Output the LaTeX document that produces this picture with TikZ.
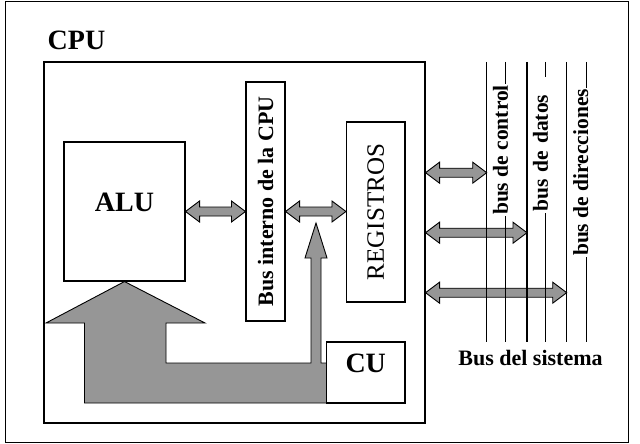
\documentclass[tikz,border=0pt]{standalone}
\usepackage{fontspec}
\setmainfont{Liberation Serif}
\usetikzlibrary{calc}
\definecolor{arrowgray}{RGB}{150,150,150}
\newcommand\fatarrow[2]{\draw[fat] let \p1=(#1), \p2=(#2) in
  (\x1,\y1) -- (\x1+14pt,\y1+10.5pt) -- (\x1+14pt,\y1+4.5pt) -- (\x2-14pt,\y1+4.5pt)
  -- (\x2-14pt,\y1+10.5pt) -- (\x2,\y1) -- (\x2-14pt,\y1-10.5pt) -- (\x2-14pt,\y1-4.5pt)
  -- (\x1+14pt,\y1-4.5pt) -- (\x1+14pt,\y1-10.5pt) -- cycle;}
\begin{document}
\begin{tikzpicture}[x=1pt,y=-1pt,
  box/.style={draw, line width=1.1pt, fill=white, inner sep=0pt},
  fat/.style={draw, line width=0.9pt, fill=arrowgray, line join=miter},
  bigfont/.style={font=\bfseries\fontsize{28}{30}\selectfont},
  buslabel/.style={fill=white, inner sep=1pt, rotate=90, font=\bfseries\fontsize{21.5}{22}\selectfont},
  busline/.style={line width=1.1pt}]
\useasboundingbox (0,0) rectangle (640,444);
\draw[line width=1.3pt] (5.5,1.5) rectangle (628.5,442.5);
\node[bigfont] (cputitle) at (76.5,40) {CPU};
\node[box, minimum width=381pt, minimum height=361pt] (cpu) at (234.5,242.5) {};
\node[box, minimum width=121pt, minimum height=139pt,
      label={[bigfont, yshift=9.5pt]center:ALU}] (alu) at (124.5,211.5) {};
\node[box, minimum width=39pt, minimum height=239pt] (bus) at (265.5,201.5) {};
\node[rotate=90, inner sep=0pt, font=\bfseries\fontsize{22}{24}\selectfont] (bustext) at (bus.center) {Bus interno de la CPU};
\node[box, minimum width=58.5pt, minimum height=180pt] (reg) at (375.75,212) {};
\node[rotate=90, inner sep=0pt, font=\fontsize{25}{27}\selectfont] (regtext) at (reg.center) {REGISTROS};
% internal double arrows
\fatarrow{alu.east}{bus.west |- alu.east}
\fatarrow{bus.east |- alu.east}{reg.west |- alu.east}
% control arrow from CU
\draw[fat] (84.5,403) -- (84.5,323) -- (46,323) -- (alu.south) -- (205,323) -- (166,323)
  -- (166,363) -- (311,363) -- (311,258) -- (305,258) -- (316,223) -- (327,258)
  -- (321,258) -- (321,363) -- (326.5,363) -- (326.5,403) -- cycle;
\node[box, minimum width=78.5pt, minimum height=61pt,
      label={[bigfont, yshift=9.5pt]center:CU}] (cu) at (365.75,372.5) {};
% system bus lines
\coordinate (b1t) at (486.7,62); \coordinate (b1b) at (486.7,342);
\coordinate (b2t) at (505.7,62); \coordinate (b2b) at (505.7,342);
\coordinate (b3t) at (527,62);   \coordinate (b3b) at (527,342);
\coordinate (b4t) at (545.7,62); \coordinate (b4b) at (545.7,342);
\coordinate (b5t) at (566.7,62); \coordinate (b5b) at (566.7,342);
\coordinate (b6t) at (586.7,62); \coordinate (b6b) at (586.7,342);
\coordinate (r1) at (0,172.7);
\coordinate (r2) at (0,232.7);
\coordinate (r3) at (0,292.7);
\fatarrow{cpu.east |- r1}{b1t |- r1}
\fatarrow{cpu.east |- r2}{b3t |- r2}
\fatarrow{cpu.east |- r3}{b5t |- r3}
\foreach \i in {1,...,6} {\draw[busline] (b\i t) -- (b\i b);}
\node[buslabel] (lctl) at (500.5,150) {bus de control};
\node[buslabel, anchor=west, text width=134pt, align=left] (ldat) at (540.5,213) {bus de datos};
\node[buslabel] (ldir) at (580.7,172.5) {bus de direcciones};
\node[font=\bfseries\fontsize{22}{24}\selectfont] (sys) at (530.5,358) {Bus del sistema};
\end{tikzpicture}
\end{document}
